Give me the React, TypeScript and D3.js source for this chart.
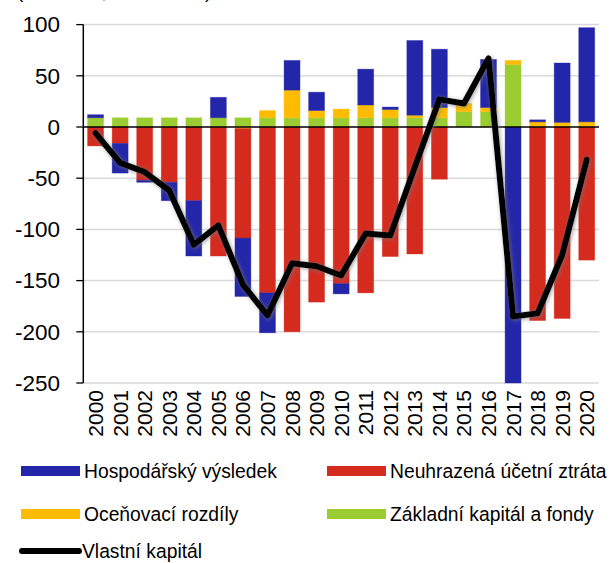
import React from "react";
import * as d3 from "d3";

const years = ["2000","2001","2002","2003","2004","2005","2006","2007","2008","2009","2010","2011","2012","2013","2014","2015","2016","2017","2018","2019","2020"];
const zakladniKapital = [9,9,9,9,9,9,9,9,9,9,9,9,9,9,9,15,15,61,0,0,0];
const ocenovaciRozdily = [0,0,0,0,0,0,-1.5,7,27,7,8.5,12.5,8,2.5,10,8,4,4,5,4.5,5];
const neuhrazenaZtrata = [-18.5,-16,-52,-54,-72,-126,-107,-162,-200,-171,-153,-162,-126.5,-124,-51,0,0,0,-189,-187,-130];
const hospodarskyVysledek = [3,-29,-2,-18,-54,20,-57,-39,29,18,-10,35,2.5,73,57,0,47,-250,2,58,92];
const vlastniKapital = [-6,-35,-44,-62,-115,-96,-154,-184,-133,-136,-145,-104,-106,-39,27,23,67,-185,-182,-125,-32];
const yTicks = [100,50,0,-50,-100,-150,-200,-250];

const seriesKeys = ["zakladni","ocenovaci","neuhrazena","hospodarsky"];
const seriesColors: Record<string,string> = {
  zakladni: "#9BCC32",
  ocenovaci: "#FFBB00",
  neuhrazena: "#D52B1F",
  hospodarsky: "#2326A8",
};
const legendItems = [
  { label: "Hospodářský výsledek", color: "#2326A8", col: 0, row: 0 },
  { label: "Neuhrazená účetní ztráta", color: "#D52B1F", col: 1, row: 0 },
  { label: "Oceňovací rozdíly", color: "#FFBB00", col: 0, row: 1 },
  { label: "Základní kapitál a fondy", color: "#9BCC32", col: 1, row: 1 },
];

export default function App() {
  const W = 611, H = 563;
  const left = 83.3, right = 599, top = 24.6, bottom = 383;
  const x = d3.scaleBand<string>().domain(years).range([left, right]).paddingInner(0.35).paddingOuter(0.175);
  const y = d3.scaleLinear().domain([-250, 100]).range([bottom, top]);

  const table = years.map((yr, i) => ({
    year: yr,
    zakladni: zakladniKapital[i],
    ocenovaci: ocenovaciRozdily[i],
    neuhrazena: neuhrazenaZtrata[i],
    hospodarsky: hospodarskyVysledek[i],
  }));
  const stacked = d3.stack<any>().keys(seriesKeys).offset(d3.stackOffsetDiverging)(table);

  const linePath = d3.line<number>()
    .x((_, i) => (x(years[i]) as number) + x.bandwidth() / 2)
    .y((d) => y(d))(vlastniKapital) as string;

  const font = "'Liberation Sans', Arial, sans-serif";

  return (
    <svg width={W} height={H} style={{ position: "absolute", left: 0, top: 0, background: "#fff" }} fontFamily={font}>
      <defs>
        <filter id="shadow" x="-10%" y="-10%" width="120%" height="120%">
          <feGaussianBlur in="SourceAlpha" stdDeviation="2.2" result="blur" />
          <feOffset in="blur" dx="1" dy="1" result="off" />
          <feFlood floodColor="#777" floodOpacity="0.7" />
          <feComposite in2="off" operator="in" result="sh" />
          <feMerge>
            <feMergeNode in="sh" />
            <feMergeNode in="SourceGraphic" />
          </feMerge>
        </filter>
      </defs>
      <text x={17} y={-2} fontSize={19} fill="#000">(v mld. Kč, konec roku)</text>
      {/* gridlines */}
      {yTicks.filter((t) => t !== 0).map((t) => (
        <line key={"g" + t} x1={left} x2={right} y1={y(t)} y2={y(t)} stroke="#d9d9d9" strokeWidth={1.5} />
      ))}
      {/* bars */}
      {stacked.map((s) => (
        <g key={s.key} fill={seriesColors[s.key]}>
          {s.map((d, i) => {
            const y0 = y(d[0]), y1 = y(d[1]);
            const h = Math.abs(y0 - y1);
            if (h < 0.01) return null;
            return (
              <rect key={i} x={x(years[i])} width={x.bandwidth()} y={Math.min(y0, y1)} height={h}
                stroke={seriesColors[s.key]} strokeOpacity={0.45} strokeWidth={0.8} />
            );
          })}
        </g>
      ))}
      {/* zero line */}
      <line x1={left} x2={right} y1={y(0)} y2={y(0)} stroke="#000" strokeWidth={1.5} />
      {/* y axis */}
      <line x1={left} x2={left} y1={top} y2={bottom} stroke="#000" strokeWidth={1.5} />
      {yTicks.map((t) => (
        <g key={"t" + t}>
          <line x1={left - 7} x2={left} y1={y(t)} y2={y(t)} stroke="#000" strokeWidth={1.3} />
          <text x={60} y={y(t)} dy="0.35em" textAnchor="end" fontSize={22.5} fill="#000">{t}</text>
        </g>
      ))}
      {/* x labels */}
      {years.map((yr) => {
        const cx = (x(yr) as number) + x.bandwidth() / 2;
        return (
          <text key={yr} transform={`translate(${cx + 7.5},${390}) rotate(-90)`} textAnchor="end" fontSize={21} fill="#000">{yr}</text>
        );
      })}
      {/* line */}
      <path d={linePath} fill="none" stroke="#000" strokeWidth={6} strokeLinejoin="round" strokeLinecap="round" filter="url(#shadow)" />
      {/* legend */}
      {legendItems.map((it) => {
        const lx = it.col === 0 ? 21 : 327;
        const ly = it.row === 0 ? 471 : 514;
        return (
          <g key={it.label}>
            <rect x={lx} y={ly - 5} width={59} height={10} fill={it.color} />
            <text x={lx + 63} y={ly} dy="0.35em" fontSize={19.3} fill="#000">{it.label}</text>
          </g>
        );
      })}
      <line x1={22} x2={79} y1={551} y2={551} stroke="#000" strokeWidth={6} strokeLinecap="round" />
      <text x={82} y={551} dy="0.35em" fontSize={19.3} fill="#000">Vlastní kapitál</text>
    </svg>
  );
}
